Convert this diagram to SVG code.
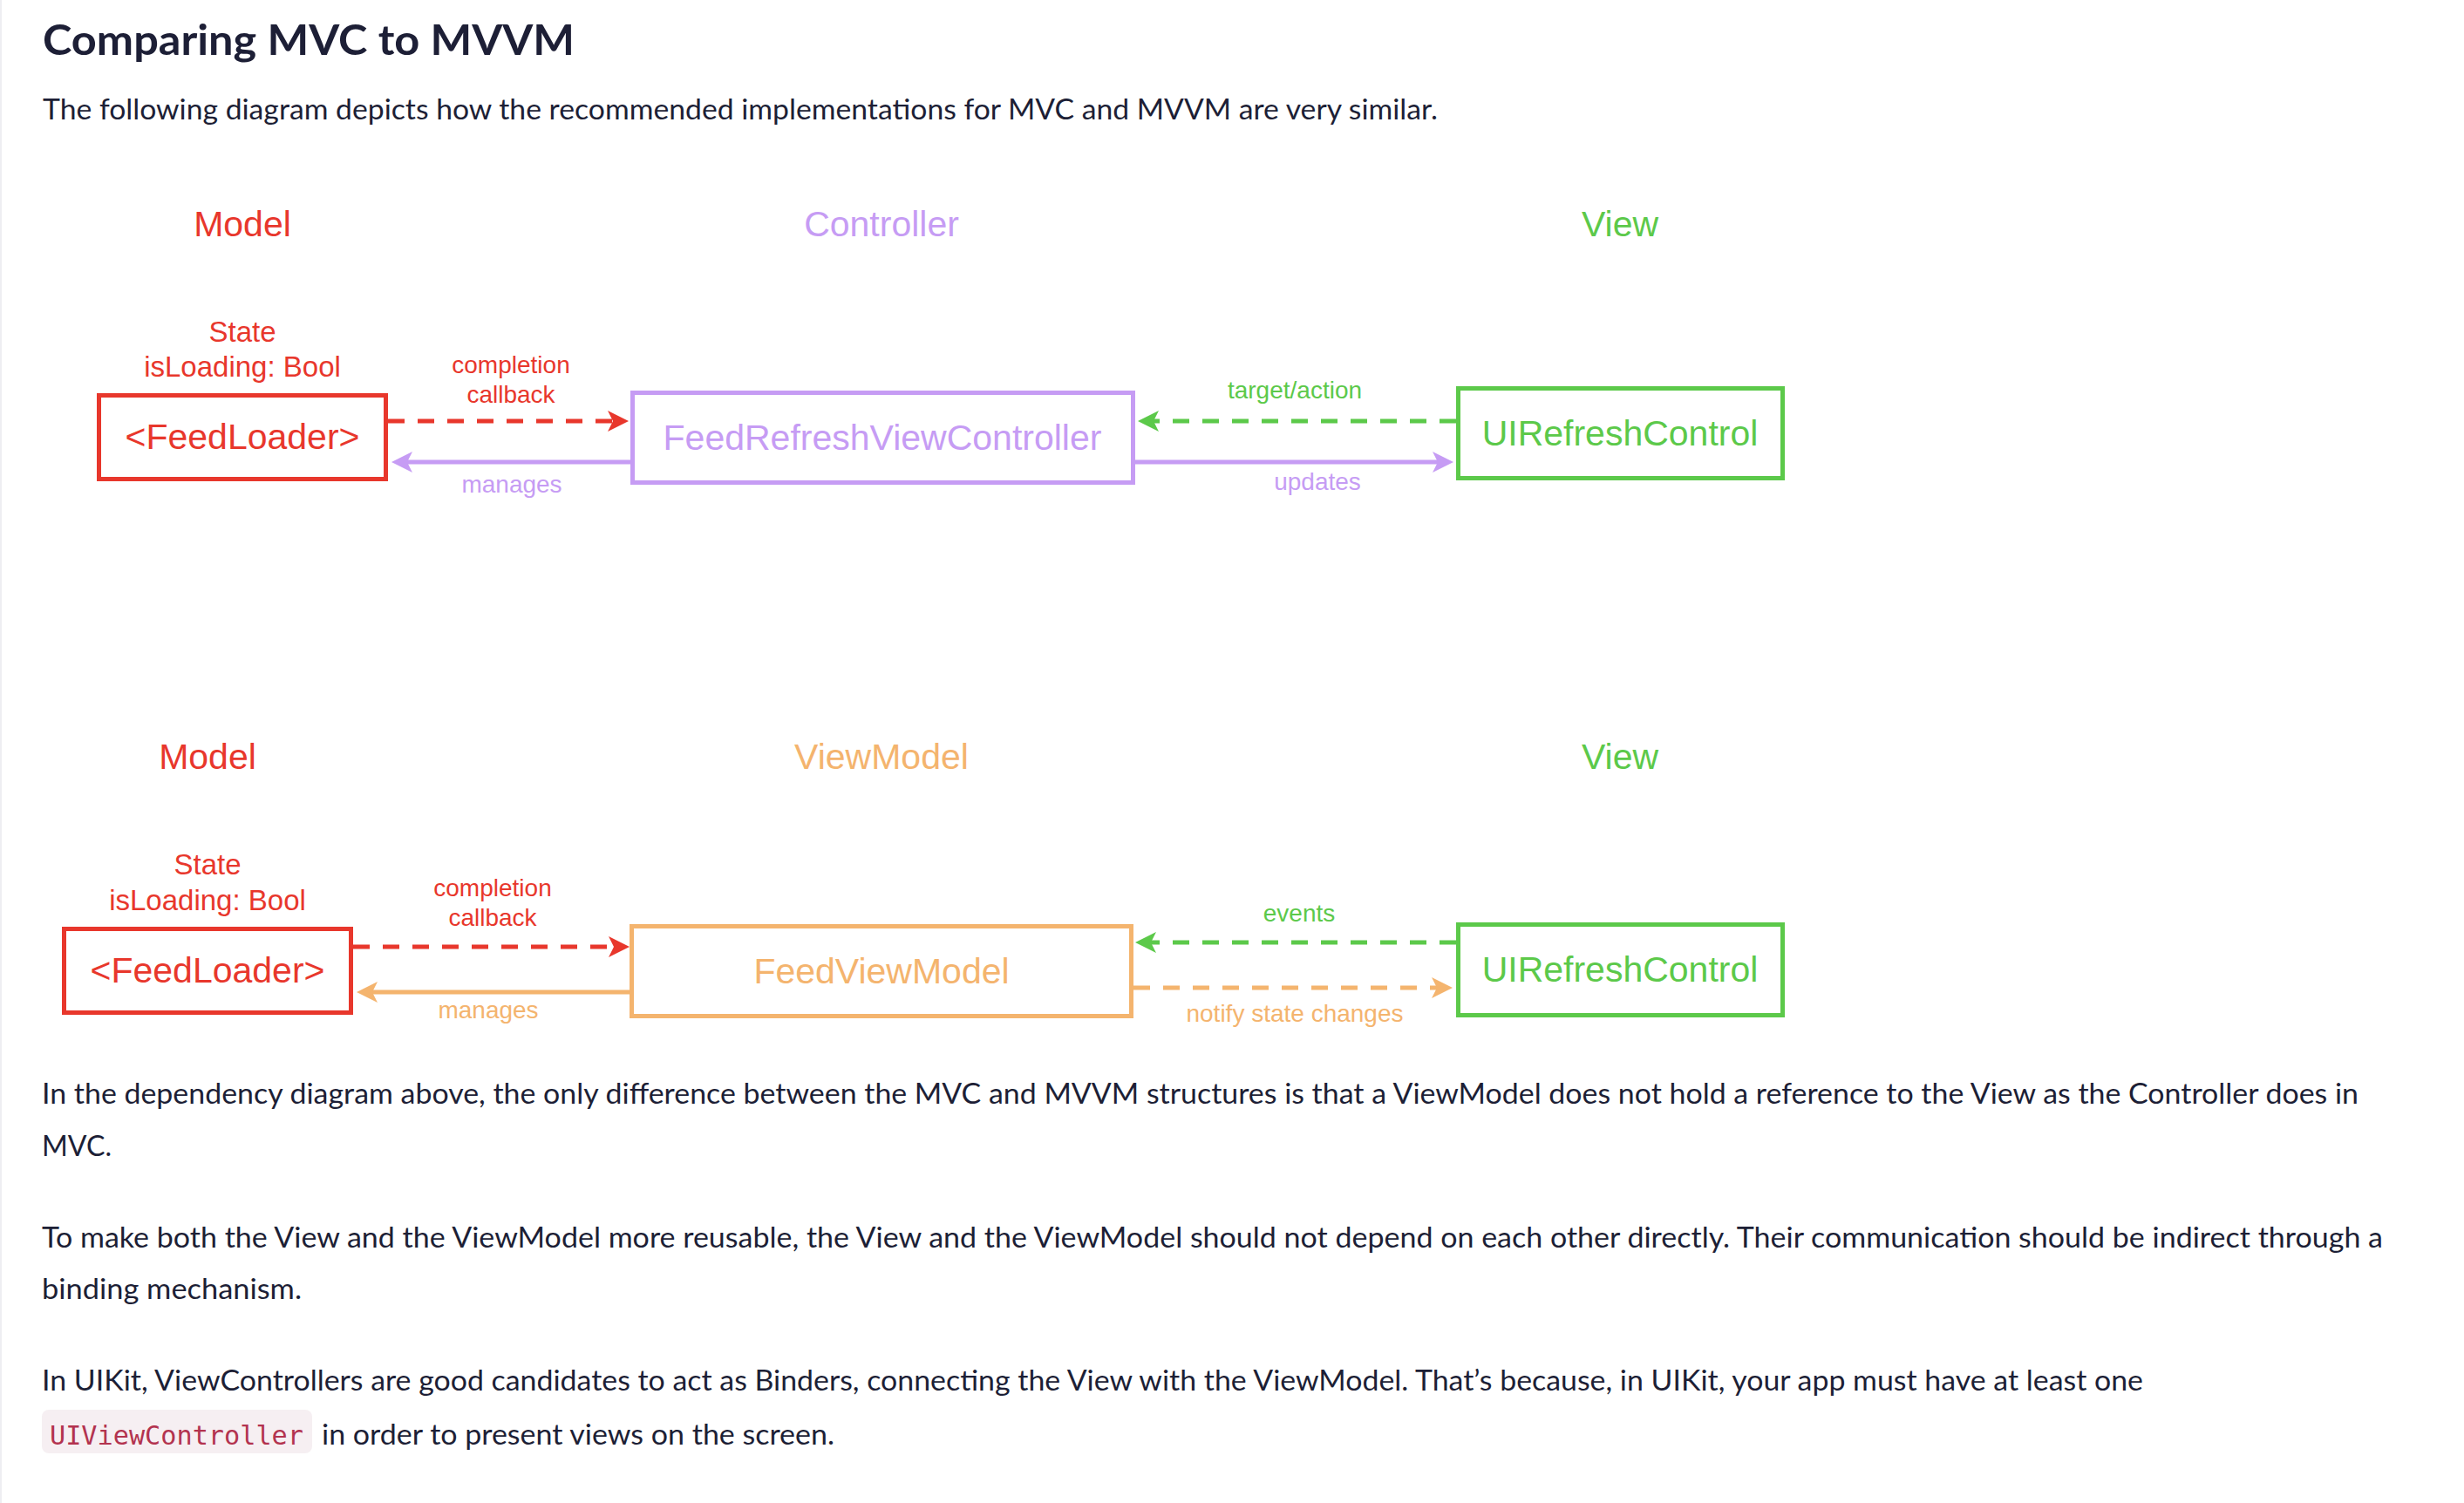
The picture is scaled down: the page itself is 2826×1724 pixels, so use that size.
<svg xmlns="http://www.w3.org/2000/svg" width="2826" height="1724" viewBox="0 0 2826 1724">
<defs>
<style>
.page{font-family:Lato,"Open Sans","Liberation Sans",sans-serif;fill:#1d1f36;font-size:32px}
.title{font-family:Lato,"Open Sans","Liberation Sans",sans-serif;fill:#1d1f36;font-size:48px;font-weight:700}
.dg{font-family:"Liberation Sans",Arial,Helvetica,sans-serif;text-anchor:middle}
.hdr{font-size:41px}
.node{font-size:41px}
.state{font-size:33px}
.elab{font-size:28px}
.box{fill:#ffffff;stroke-width:5}
.red{fill:#e8372c}
.pur{fill:#c69cf4}
.grn{fill:#5cc94a}
.org{fill:#f4b46e}
.sred{stroke:#e8372c}
.spur{stroke:#c69cf4}
.sgrn{stroke:#5cc94a}
.sorg{stroke:#f4b46e}
.ln{fill:none;stroke-width:5}
.dash{stroke-dasharray:19 15}
</style>
<marker id="aRed" markerUnits="userSpaceOnUse" markerWidth="26" markerHeight="26" refX="6" refY="12" orient="auto" viewBox="0 0 26 26"><path d="M0,0 L24,12 L0,24 L6,12 z" fill="#e8372c"/></marker>
<marker id="aPur" markerUnits="userSpaceOnUse" markerWidth="26" markerHeight="26" refX="6" refY="12" orient="auto" viewBox="0 0 26 26"><path d="M0,0 L24,12 L0,24 L6,12 z" fill="#c69cf4"/></marker>
<marker id="aGrn" markerUnits="userSpaceOnUse" markerWidth="26" markerHeight="26" refX="6" refY="12" orient="auto" viewBox="0 0 26 26"><path d="M0,0 L24,12 L0,24 L6,12 z" fill="#5cc94a"/></marker>
<marker id="aOrg" markerUnits="userSpaceOnUse" markerWidth="26" markerHeight="26" refX="6" refY="12" orient="auto" viewBox="0 0 26 26"><path d="M0,0 L24,12 L0,24 L6,12 z" fill="#f4b46e"/></marker>
</defs>
<rect x="0" y="0" width="2826" height="1724" fill="#ffffff"/>
<line x1="1" y1="0" x2="1" y2="1724" stroke="#eeeef2" stroke-width="2"/>

<g id="page-text">
<text class="title" x="49" y="63" textLength="610" lengthAdjust="spacingAndGlyphs">Comparing MVC to MVVM</text>
<text class="page" x="49" y="137" textLength="1600" lengthAdjust="spacingAndGlyphs">The following diagram depicts how the recommended implementations for MVC and MVVM are very similar.</text>
<text class="page" x="48" y="1266" textLength="2657" lengthAdjust="spacingAndGlyphs">In the dependency diagram above, the only difference between the MVC and MVVM structures is that a ViewModel does not hold a reference to the View as the Controller does in</text>
<text class="page" x="48" y="1326" textLength="80" lengthAdjust="spacingAndGlyphs">MVC.</text>
<text class="page" x="48" y="1431" textLength="2685" lengthAdjust="spacingAndGlyphs">To make both the View and the ViewModel more reusable, the View and the ViewModel should not depend on each other directly. Their communication should be indirect through a</text>
<text class="page" x="48" y="1490" textLength="298" lengthAdjust="spacingAndGlyphs">binding mechanism.</text>
<text class="page" x="48" y="1595" textLength="2410" lengthAdjust="spacingAndGlyphs">In UIKit, ViewControllers are good candidates to act as Binders, connecting the View with the ViewModel. That’s because, in UIKit, your app must have at least one</text>
<rect x="48" y="1617" width="310" height="50" rx="8" fill="#f6eff2"/>
<text x="57" y="1657" font-family="'DejaVu Sans Mono','Liberation Mono',monospace" font-size="31" fill="#b3334f" textLength="291" lengthAdjust="spacingAndGlyphs">UIViewController</text>
<text class="page" x="369" y="1657" textLength="588" lengthAdjust="spacingAndGlyphs">in order to present views on the screen.</text>
</g>

<g id="mvc-headers" class="dg hdr">
<text class="red" x="278" y="271">Model</text>
<text class="pur" x="1011" y="271">Controller</text>
<text class="grn" x="1858" y="271">View</text>
</g>

<g id="mvc-feedloader" class="dg">
<text class="red state" x="278" y="392">State</text>
<text class="red state" x="278" y="432">isLoading: Bool</text>
<rect class="box sred" x="113.5" y="453.5" width="329" height="96"/>
<text class="red node" x="278" y="515">&lt;FeedLoader&gt;</text>
</g>

<g id="mvc-controller" class="dg">
<rect class="box spur" x="725.5" y="450.5" width="574" height="103"/>
<text class="pur node" x="1012" y="516">FeedRefreshViewController</text>
</g>

<g id="mvc-view" class="dg">
<rect class="box sgrn" x="1672.5" y="445.5" width="372" height="103"/>
<text class="grn node" x="1858" y="511">UIRefreshControl</text>
</g>

<g id="mvvm-headers" class="dg hdr">
<text class="red" x="238" y="882">Model</text>
<text class="org" x="1011" y="882">ViewModel</text>
<text class="grn" x="1858" y="882">View</text>
</g>

<g id="mvvm-feedloader" class="dg">
<text class="red state" x="238" y="1003">State</text>
<text class="red state" x="238" y="1044">isLoading: Bool</text>
<rect class="box sred" x="73.5" y="1065.5" width="329" height="96"/>
<text class="red node" x="238" y="1127">&lt;FeedLoader&gt;</text>
</g>

<g id="mvvm-viewmodel" class="dg">
<rect class="box sorg" x="724.5" y="1062.5" width="573" height="103"/>
<text class="org node" x="1011" y="1128">FeedViewModel</text>
</g>

<g id="mvvm-view" class="dg">
<rect class="box sgrn" x="1672.5" y="1060.5" width="372" height="104"/>
<text class="grn node" x="1858" y="1126">UIRefreshControl</text>
</g>

<g id="connectors">
<line class="ln sred dash" x1="445" y1="483" x2="703" y2="483" marker-end="url(#aRed)"/>
<line class="ln spur" x1="723" y1="530" x2="467" y2="530" marker-end="url(#aPur)"/>
<line class="ln sgrn dash" x1="1670" y1="483" x2="1323" y2="483" marker-end="url(#aGrn)"/>
<line class="ln spur" x1="1302" y1="530" x2="1649" y2="530" marker-end="url(#aPur)"/>

<line class="ln sred dash" x1="405" y1="1086" x2="704" y2="1086" marker-end="url(#aRed)"/>
<line class="ln sorg" x1="722" y1="1138" x2="427" y2="1138" marker-end="url(#aOrg)"/>
<line class="ln sgrn dash" x1="1670" y1="1081" x2="1320" y2="1081" marker-end="url(#aGrn)"/>
<line class="ln sorg dash" x1="1300" y1="1133" x2="1648" y2="1133" marker-end="url(#aOrg)"/>

<g class="dg elab">
<text class="red" x="586" y="428">completion</text>
<text class="red" x="586" y="462">callback</text>
<text class="pur" x="587" y="565">manages</text>
<text class="grn" x="1485" y="457">target/action</text>
<text class="pur" x="1511" y="562">updates</text>
<text class="red" x="565" y="1028">completion</text>
<text class="red" x="565" y="1062">callback</text>
<text class="org" x="560" y="1168">manages</text>
<text class="grn" x="1490" y="1057">events</text>
<text class="org" x="1485" y="1172">notify state changes</text>
</g>
</g>
</svg>
